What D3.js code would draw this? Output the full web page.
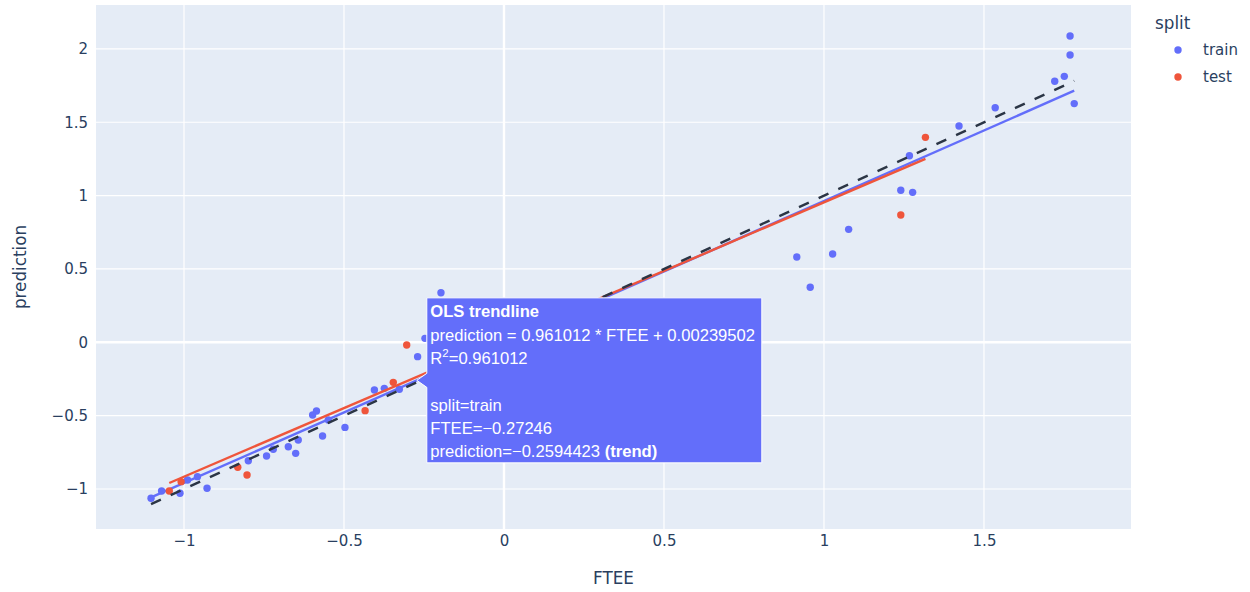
<!DOCTYPE html>
<html>
<head>
<meta charset="utf-8">
<script src="https://cdn.jsdelivr.net/npm/d3@7"></script>
<style>
  html, body { margin: 0; padding: 0; background: #fff; }
  svg { display: block; }
</style>
</head>
<body>
<svg id="chart" width="1250" height="592"></svg>
<script>
// ---- data ----
const trainX = [1.769, 1.769, 1.751, 1.721, 1.782, 1.535, 1.422, 1.267, 1.240, 1.277, 1.077, 1.027, 0.915, 0.957,
  -0.197, -0.247, -0.270, -0.327, -0.374, -0.405, -0.497, -0.549, -0.567, -0.586, -0.598, -0.643, -0.651,
  -0.674, -0.721, -0.742, -0.799, -0.928, -0.958, -0.989, -1.0125, -1.070, -1.103];
const trainY = [2.088, 1.958, 1.813, 1.779, 1.627, 1.599, 1.474, 1.272, 1.036, 1.022, 0.770, 0.602, 0.581, 0.375,
  0.338, 0.027, -0.098, -0.320, -0.314, -0.325, -0.580, -0.530, -0.639, -0.468, -0.496, -0.666, -0.757,
  -0.712, -0.729, -0.775, -0.807, -0.995, -0.916, -0.939, -1.029, -1.014, -1.063];
const testX = [1.317, 1.240, -0.304, -0.346, -0.434, -0.803, -0.832, -1.009, -1.046];
const testY = [1.397, 0.868, -0.018, -0.273, -0.466, -0.905, -0.852, -0.950, -1.014];

// OLS fits: [slope, intercept]
const trainFit = [0.961012, 0.00239502];
const testFit = [0.935, 0.019];

const xTicks = [-1, -0.5, 0, 0.5, 1, 1.5];
const yTicks = [-1, -0.5, 0, 0.5, 1, 1.5, 2];
const seriesNames = ["train", "test"];
const seriesColors = ["#636efa", "#ef553b"];

// hovered point on the train trendline
const hoverX = -0.27246;
const hoverY = -0.2594423;

// ---- layout ----
const svg = d3.select("#chart");
const plot = { left: 96, right: 1131, top: 5, bottom: 529 };
const x = d3.scaleLinear().domain([-1.275, 1.9594]).range([plot.left, plot.right]);
const y = d3.scaleLinear().domain([-1.2727, 2.2992]).range([plot.bottom, plot.top]);

const uiFont = '"DejaVu Sans", Verdana, sans-serif';
const textColor = "#2a3f5f";

svg.append("rect")
  .attr("x", plot.left).attr("y", plot.top)
  .attr("width", plot.right - plot.left).attr("height", plot.bottom - plot.top)
  .attr("fill", "#e5ecf6");

// grid
const grid = svg.append("g");
grid.selectAll("line.gx").data(xTicks).join("line")
  .attr("x1", d => x(d)).attr("x2", d => x(d))
  .attr("y1", plot.top).attr("y2", plot.bottom)
  .attr("stroke", "#fff").attr("stroke-width", d => d === 0 ? 2.4 : 1.2);
grid.selectAll("line.gy").data(yTicks).join("line")
  .attr("y1", d => y(d)).attr("y2", d => y(d))
  .attr("x1", plot.left).attr("x2", plot.right)
  .attr("stroke", "#fff").attr("stroke-width", d => d === 0 ? 2.4 : 1.2);

const fmt = d => (d < 0 ? "\u2212" : "") + String(Math.abs(d));

// axes (labels only, no domain line / ticks)
const xAxis = svg.append("g")
  .attr("transform", `translate(0,${plot.bottom})`)
  .call(d3.axisBottom(x).tickValues(xTicks).tickFormat(fmt).tickSize(0).tickPadding(6));
const yAxis = svg.append("g")
  .attr("transform", `translate(${plot.left},0)`)
  .call(d3.axisLeft(y).tickValues(yTicks).tickFormat(fmt).tickSize(0).tickPadding(8));
[xAxis, yAxis].forEach(a => {
  a.select(".domain").remove();
  a.selectAll("text").attr("fill", textColor).style("font-family", uiFont).style("font-size", "15px");
});

// axis titles
svg.append("text")
  .attr("x", (plot.left + plot.right) / 2).attr("y", 584)
  .attr("text-anchor", "middle")
  .attr("fill", textColor).style("font-family", uiFont).style("font-size", "16.8px")
  .text("FTEE");
svg.append("text")
  .attr("transform", `translate(26,${(plot.top + plot.bottom) / 2}) rotate(-90)`)
  .attr("text-anchor", "middle")
  .attr("fill", textColor).style("font-family", uiFont).style("font-size", "16.8px")
  .text("prediction");

// marks
const marks = svg.append("g");
const line = d3.line().x(d => x(d[0])).y(d => y(d[1]));

function drawSeries(xs, ys, fit, color) {
  const pts = xs.map((v, i) => [v, ys[i]]);
  marks.append("g").selectAll("circle").data(pts).join("circle")
    .attr("cx", d => x(d[0])).attr("cy", d => y(d[1]))
    .attr("r", 3.7).attr("fill", color);
  const [x0, x1] = d3.extent(xs);
  marks.append("path")
    .attr("d", line([[x0, fit[0] * x0 + fit[1]], [x1, fit[0] * x1 + fit[1]]]))
    .attr("stroke", color).attr("stroke-width", 2.4).attr("fill", "none");
}
drawSeries(trainX, trainY, trainFit, seriesColors[0]);
drawSeries(testX, testY, testFit, seriesColors[1]);

// identity reference line across the data range
const allX = trainX.concat(testX);
const [ix0, ix1] = d3.extent(allX);
marks.append("path")
  .attr("d", line([[ix0, ix0], [ix1, ix1]]))
  .attr("stroke", "#2b3545").attr("stroke-width", 2.4)
  .attr("stroke-dasharray", "10.8,10.8").attr("fill", "none");

// legend
const legend = svg.append("g").style("font-family", uiFont);
legend.append("text")
  .attr("x", 1155).attr("y", 29)
  .attr("fill", textColor).style("font-size", "16.8px").text("split");
seriesNames.forEach((name, i) => {
  const cy = 50 + i * 27;
  legend.append("circle").attr("cx", 1178).attr("cy", cy).attr("r", 3.7).attr("fill", seriesColors[i]);
  legend.append("text").attr("x", 1203).attr("y", cy + 5)
    .attr("fill", textColor).style("font-size", "15px").text(name);
});

// hover label for the train trendline
const tipX = x(hoverX), tipY = y(hoverY);
const boxW = 335, boxH = 165;
const bx = tipX + 10, by = tipY - boxH / 2;
const hover = svg.append("g").style("font-family", '"Liberation Sans", Arial, sans-serif');
hover.append("path")
  .attr("d", `M${tipX},${tipY} L${bx},${tipY - 7} L${bx},${by} L${bx + boxW},${by} L${bx + boxW},${by + boxH} L${bx},${by + boxH} L${bx},${tipY + 7} Z`)
  .attr("fill", seriesColors[0]).attr("stroke", "#fff").attr("stroke-width", 1);

const hoverLines = [
  [{ t: "OLS trendline", b: true }],
  [{ t: `prediction = ${trainFit[0]} * FTEE + ${trainFit[1]}` }],
  [{ t: "R" }, { t: "2", sup: true }, { t: `=${trainFit[0]}` }],
  [],
  [{ t: "split=train" }],
  [{ t: "FTEE=\u22120.27246" }],
  [{ t: "prediction=\u22120.2594423 " }, { t: "(trend)", b: true }]
];
const hoverTop = by + 19.5;
hoverLines.forEach((parts, i) => {
  if (!parts.length) return;
  const txt = hover.append("text")
    .attr("x", bx + 3.5).attr("y", hoverTop + i * 23.3)
    .attr("fill", "#fff").style("font-size", "16.6px");
  parts.forEach((p, j) => {
    const s = txt.append("tspan").text(p.t);
    if (p.b) s.style("font-weight", "bold");
    if (p.sup) s.attr("dy", -6.5).style("font-size", "11.5px");
    else if (j > 0 && parts[j - 1].sup) s.attr("dy", 6.5);
  });
});
</script>
</body>
</html>
